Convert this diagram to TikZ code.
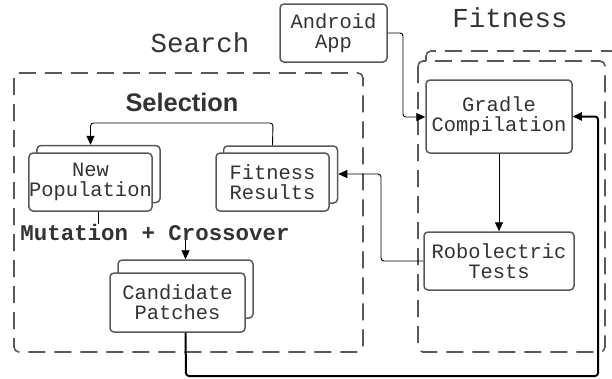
\documentclass[tikz,border=0pt]{standalone}
\usepackage{fontspec}
\setmainfont{Liberation Sans}
\newfontfamily\monof{Liberation Mono}
\usetikzlibrary{arrows.meta}
\definecolor{txt}{HTML}{333333}
\definecolor{bord}{HTML}{595959}
\begin{document}
\begin{tikzpicture}[x=1bp,y=-1bp,
  box/.style={draw=bord,line width=1.5bp,fill=white,rounded corners=4bp,inner sep=0pt,
    align=center,text=txt,font=\monof\fontsize{20.5}{20}\selectfont},
  dbox/.style={draw=bord,line width=1.6bp,dash pattern=on 17bp off 9bp,rounded corners=5bp},
  conn/.style={draw=black,line width=0.9bp,rounded corners=3bp},
  arr/.style={conn,-{Triangle[length=9bp,width=8bp]}},
  title/.style={text=txt,font=\monof\fontsize{27.5}{28}\selectfont,inner sep=0pt}]
\useasboundingbox (0,0) rectangle (612,378);
% dashed containers
\draw[dbox] (14,73) rectangle (363,352);
\draw[dbox] (426,51) rectangle (616,340);
\draw[dbox,fill=white] (418,61) rectangle (605,352);
% titles
\node[title] (search) at (200,43) {Search};
\node[title] (fitness) at (510,18) {Fitness};
\node[text=txt,font=\bfseries\fontsize{25.5}{26}\selectfont,inner sep=0pt] (sel) at (182,102) {Selection};
\node[text=txt,font=\monof\bfseries\fontsize{22.5}{23}\selectfont,inner sep=0pt] (mut) at (155,232) {Mutation + Crossover};
% boxes
\node[box,minimum width=107bp,minimum height=58bp] (app) at (333.5,33) {Android\\App};
\node[box,minimum width=146bp,minimum height=73bp] (gradle) at (499,116.5) {Gradle\\Compilation};
\node[box,minimum width=150bp,minimum height=58bp] (robo) at (499,261) {Robolectric\\Tests};
% stacked boxes
\node[box,minimum width=123bp,minimum height=57bp] (npb) at (98.5,174) {};
\node[box,minimum width=123bp,minimum height=58bp] (np) at (90.5,182) {New\\Population};
\node[box,minimum width=114bp,minimum height=57bp] (frb) at (280.5,174.5) {};
\node[box,minimum width=113bp,minimum height=58bp] (fr) at (272.5,182) {Fitness\\Results};
\node[box,minimum width=135bp,minimum height=58bp] (cpb) at (185.5,289) {};
\node[box,minimum width=135bp,minimum height=59bp] (cp) at (177.5,302.5) {Candidate\\Patches};
% connectors
\coordinate (selTop) at (273,123);
\draw[arr] (fr.north |- frb.north) -- (selTop) -| (np.north |- npb.north);
\draw[conn] (npb.south |- np.south) -- (npb.south |- mut.north);
\draw[arr] (cpb.north |- mut.south) -- (cpb.north);
\coordinate (appTurn) at (403,117);
\draw[arr] (app.east) -| (appTurn) -- (gradle.west |- appTurn);
\draw[arr] (gradle.south) -- (robo.north);
\coordinate (roboTurn) at (381,174);
\draw[arr] (robo.west) -| (roboTurn) -- (frb.east |- roboTurn);
\coordinate (loopA) at (186,376);
\coordinate (loopB) at (598,376);
\draw[arr,line width=2bp] (cpb.south |- cp.south) -- (loopA) -- (loopB) |- (gradle.east);
\end{tikzpicture}
\end{document}
